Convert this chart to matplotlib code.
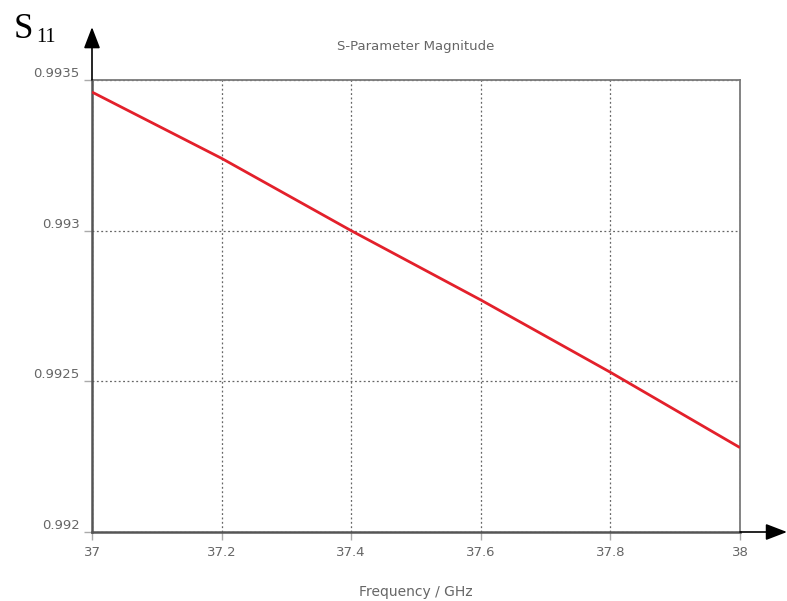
import matplotlib
matplotlib.use("Agg")
import matplotlib.pyplot as plt

# Data
freq_ghz = [37.0, 37.2, 37.4, 37.6, 37.8, 38.0]
s11_mag = [0.99346, 0.99324, 0.99300, 0.99277, 0.99253, 0.99228]
x_ticks = [37.0, 37.2, 37.4, 37.6, 37.8, 38.0]
x_tick_labels = ["37", "37.2", "37.4", "37.6", "37.8", "38"]
y_ticks = [0.992, 0.9925, 0.993, 0.9935]
y_tick_labels = ["0.992", "0.9925", "0.993", "0.9935"]

W, H = 787, 601
fig = plt.figure(figsize=(W / 100, H / 100), dpi=100)
L, R, T, B = 92, 740, 80, 532
ax = fig.add_axes([L / W, 1 - B / H, (R - L) / W, (B - T) / H])

ax.plot(freq_ghz, s11_mag, color="#e3202b", lw=2.0, solid_capstyle="butt", zorder=3)

ax.set_xlim(37.0, 38.0)
ax.set_ylim(0.992, 0.9935)
ax.set_xticks(x_ticks)
ax.set_xticklabels(x_tick_labels)
ax.set_yticks(y_ticks)
ax.set_yticklabels(y_tick_labels)

ax.grid(True, color="#666666", lw=0.9, linestyle=(0, (1.5, 2)))
ax.tick_params(axis="both", colors="#aaaaaa", labelcolor="#666666", labelsize=9.5,
               length=6, width=1, direction="out")
ax.tick_params(axis="x", pad=4)
ax.tick_params(axis="y", pad=3)
for lab in ax.get_yticklabels():
    lab.set_verticalalignment("bottom")

for side in ["top", "right"]:
    ax.spines[side].set_color("#7a7a7a")
    ax.spines[side].set_linewidth(1.3)
for side in ["left", "bottom"]:
    ax.spines[side].set_color("#555555")
    ax.spines[side].set_linewidth(1.8)

# Axis arrows
arrow_style = "-|>,head_length=0.52,head_width=0.2"
ax.annotate("", xy=(0, 1.117), xytext=(0, 1.0), xycoords="axes fraction",
            arrowprops=dict(arrowstyle=arrow_style, color="black", lw=1.2,
                            mutation_scale=25, shrinkA=0, shrinkB=0),
            annotation_clip=False)
ax.annotate("", xy=(1.0725, 0), xytext=(1.0, 0), xycoords="axes fraction",
            arrowprops=dict(arrowstyle=arrow_style, color="black", lw=1.2,
                            mutation_scale=25, shrinkA=0, shrinkB=0),
            annotation_clip=False)

ax.text(0.5, 1.075, "S-Parameter Magnitude", transform=ax.transAxes,
        ha="center", va="center", fontsize=9.5, color="#666666")
ax.text(0.5, -0.133, "Frequency / GHz", transform=ax.transAxes,
        ha="center", va="center", fontsize=10, color="#666666")

fig.text(14 / W, 1 - 38 / H, "S", family="Liberation Serif", fontsize=25,
         ha="left", va="baseline", color="black")
fig.text(36 / W, 1 - 42 / H, "11", family="Liberation Serif", fontsize=14.5,
         ha="left", va="baseline", color="black")

fig.savefig("out.png", dpi=100, facecolor="white")
